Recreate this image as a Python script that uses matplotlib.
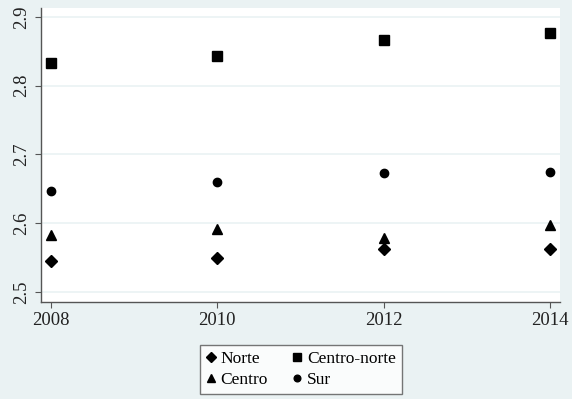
import matplotlib
matplotlib.use("Agg")
import matplotlib.pyplot as plt

years = [2008, 2010, 2012, 2014]
norte = [2.545, 2.550, 2.562, 2.562]
centro_norte = [2.833, 2.843, 2.867, 2.877]
centro = [2.583, 2.591, 2.578, 2.597]
sur = [2.647, 2.660, 2.673, 2.674]
yticks = [2.5, 2.6, 2.7, 2.8, 2.9]

plt.rcParams['font.family'] = ['Liberation Serif', 'DejaVu Serif']

bg = '#EAF2F3'
fig = plt.figure(figsize=(5.72, 3.99), dpi=100, facecolor=bg)
ax = fig.add_axes([0.0717, 0.2431, 0.9073, 0.7369])
ax.set_facecolor('white')

h1, = ax.plot(years, norte, 'D', color='black', ms=6.5, ls='none', label='Norte')
h2, = ax.plot(years, centro_norte, 's', color='black', ms=6.5, ls='none', label='Centro-norte')
h3, = ax.plot(years, centro, '^', color='black', ms=7, ls='none', label='Centro')
h4, = ax.plot(years, sur, 'o', color='black', ms=6, ls='none', label='Sur')

ax.set_xlim(2007.88, 2014.12)
ax.set_ylim(2.4855, 2.913)
ax.set_xticks(years)
ax.set_yticks(yticks)
ax.set_yticklabels([str(t) for t in yticks], rotation=90, va='center')
for t in yticks:
    ax.axhline(t, color='#EAF2F3', lw=1.2, zorder=0)

for s in ['top', 'right']:
    ax.spines[s].set_visible(False)
for s in ['left', 'bottom']:
    ax.spines[s].set_color('#555555')
    ax.spines[s].set_linewidth(1)
ax.tick_params(axis='both', length=4, width=0.8, color='#555555', labelsize=13.5, labelcolor='#222222')

leg = fig.legend([h1, h3, h2, h4], ['Norte', 'Centro', 'Centro-norte', 'Sur'],
                 ncol=2, loc='center', bbox_to_anchor=(0.526, 0.074),
                 frameon=True, fancybox=False, fontsize=12.5,
                 handlelength=0.6, handletextpad=0.25, columnspacing=1.4,
                 labelspacing=0.25, borderpad=0.35, markerscale=0.8)
leg.get_frame().set_edgecolor('#555555')
leg.get_frame().set_facecolor('white')
leg.get_frame().set_linewidth(1)

fig.savefig('out.png', dpi=100, facecolor=bg)
